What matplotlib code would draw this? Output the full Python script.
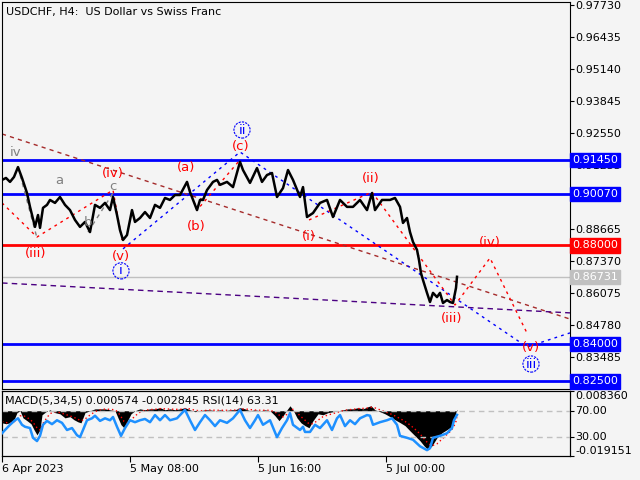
import matplotlib
matplotlib.use("Agg")
import matplotlib.pyplot as plt
import matplotlib.transforms as mtransforms

# Price data (bar index, close)
bars = [0, 4, 8, 12, 16, 20, 25, 28, 33, 36, 38, 41, 45, 48, 53, 58, 63, 68, 73, 78,
        83, 88, 93, 98, 103, 108, 111, 115, 118, 121, 125, 130, 133, 138, 143, 148, 153, 158, 163, 168,
        173, 178, 185, 188, 195, 198, 201, 205, 211, 215, 218, 225, 231, 238, 241, 248, 255, 260, 265, 270,
        275, 281, 286, 291, 298, 301, 305, 311, 318, 325, 331, 338, 345, 351, 358, 365, 370, 373, 380, 388,
        393, 398, 401, 405, 408, 411, 415, 417, 419, 421, 425, 428, 431, 435, 438, 441, 445, 448, 451, 454, 455]
close = [0.9065, 0.9073, 0.9057, 0.9077, 0.9117, 0.9073, 0.9012, 0.8956, 0.8875, 0.8923, 0.8871, 0.8952, 0.8964, 0.8984, 0.8972, 0.8996, 0.8964, 0.8943, 0.8903, 0.8875,
         0.8895, 0.8854, 0.8964, 0.8952, 0.8972, 0.8943, 0.8996, 0.8923, 0.8862, 0.8822, 0.8842, 0.8943, 0.8895, 0.8911, 0.8935, 0.8911, 0.8964, 0.8952, 0.8992, 0.8984,
         0.9004, 0.9004, 0.9057, 0.9016, 0.8943, 0.8984, 0.8984, 0.9024, 0.9057, 0.9065, 0.9045, 0.9057, 0.9036, 0.9138, 0.9105, 0.9053, 0.9113, 0.9057, 0.9085, 0.9093,
         0.8996, 0.9032, 0.9105, 0.9065, 0.8996, 0.9036, 0.8915, 0.8931, 0.8972, 0.8984, 0.8915, 0.8984, 0.8956, 0.8956, 0.8984, 0.8943, 0.9012, 0.8943, 0.8984, 0.8984,
         0.8992, 0.8956, 0.8891, 0.8911, 0.8854, 0.8814, 0.8782, 0.8741, 0.8688, 0.8660, 0.8608, 0.8571, 0.8608, 0.8591, 0.8608, 0.8567, 0.8579, 0.8571, 0.8567, 0.8628, 0.8673]

# MACD histogram / signal
macd_bars = [0, 4, 8, 12, 15, 18, 21, 25, 29, 32, 35, 38, 40, 44, 48, 53, 58, 63, 68, 72,
             76, 79, 83, 88, 93, 98, 103, 108, 113, 116, 119, 122, 126, 129, 133, 138, 143, 148, 153, 158,
             163, 168, 173, 178, 183, 188, 193, 198, 203, 208, 213, 218, 223, 228, 233, 238, 243, 248, 253, 258,
             263, 268, 273, 277, 281, 285, 288, 291, 295, 299, 303, 307, 311, 316, 321, 326, 331, 336, 341, 346,
             351, 356, 361, 366, 369, 373, 378, 383, 388, 393, 398, 403, 408, 413, 418, 422, 426, 430, 435, 440,
             445, 449, 452, 454, 455]
macd = [-0.0051, -0.0055, -0.0051, -0.0038, -0.0008, 0.0000, -0.0030, -0.0042, -0.0055, -0.0080, -0.0102, -0.0080, -0.0017, -0.0004, 0.0004, -0.0008, -0.0013, -0.0030, -0.0025, -0.0038,
        -0.0047, -0.0051, -0.0008, 0.0000, 0.0008, 0.0008, 0.0008, 0.0004, 0.0000, -0.0030, -0.0059, -0.0072, -0.0038, -0.0013, 0.0000, 0.0008, 0.0004, 0.0008, 0.0008, 0.0013,
        0.0004, 0.0008, 0.0004, 0.0008, 0.0013, 0.0004, -0.0004, 0.0000, 0.0004, 0.0004, 0.0000, 0.0004, 0.0000, 0.0004, 0.0004, 0.0013, 0.0008, 0.0000, 0.0004, 0.0000,
        0.0004, 0.0000, -0.0021, -0.0042, -0.0021, 0.0004, 0.0021, 0.0004, -0.0030, -0.0051, -0.0063, -0.0072, -0.0042, -0.0013, -0.0017, -0.0008, -0.0004, 0.0000, 0.0004, 0.0008,
        0.0008, 0.0013, 0.0008, 0.0017, 0.0021, 0.0004, -0.0004, -0.0013, -0.0025, -0.0038, -0.0050, -0.0063, -0.0085, -0.0106, -0.0127, -0.0148, -0.0165, -0.0148, -0.0114, -0.0093,
        -0.0080, -0.0068, -0.0038, -0.0004, 0.0006]
signal = [-0.0045, -0.0050, -0.0052, -0.0048, -0.0035, -0.0022, -0.0020, -0.0028, -0.0040, -0.0055, -0.0072, -0.0082, -0.0060, -0.0035, -0.0012, -0.0005, -0.0008, -0.0015, -0.0022, -0.0028,
          -0.0036, -0.0043, -0.0035, -0.0018, -0.0004, 0.0004, 0.0007, 0.0006, 0.0004, -0.0006, -0.0025, -0.0045, -0.0052, -0.0040, -0.0022, -0.0006, 0.0002, 0.0005, 0.0006, 0.0009,
          0.0008, 0.0007, 0.0006, 0.0006, 0.0009, 0.0008, 0.0002, 0.0000, 0.0001, 0.0003, 0.0002, 0.0002, 0.0002, 0.0002, 0.0003, 0.0007, 0.0008, 0.0005, 0.0003, 0.0002,
          0.0002, 0.0002, -0.0005, -0.0018, -0.0026, -0.0015, 0.0000, 0.0006, -0.0008, -0.0025, -0.0040, -0.0055, -0.0055, -0.0040, -0.0025, -0.0018, -0.0012, -0.0006, 0.0000, 0.0004,
          0.0006, 0.0009, 0.0010, 0.0012, 0.0015, 0.0012, 0.0004, -0.0004, -0.0012, -0.0022, -0.0033, -0.0045, -0.0060, -0.0078, -0.0098, -0.0118, -0.0138, -0.0148, -0.0140, -0.0120,
          -0.0100, -0.0085, -0.0065, -0.0045, -0.0028]

# RSI(14)
rsi_bars = [0, 3, 8, 13, 16, 20, 23, 28, 31, 35, 38, 41, 45, 50, 55, 60, 65, 70, 75, 78,
            81, 85, 90, 93, 98, 103, 108, 111, 115, 119, 123, 128, 133, 138, 143, 148, 153, 158, 163, 168,
            175, 183, 188, 193, 198, 203, 208, 213, 218, 225, 231, 238, 243, 248, 253, 256, 261, 268, 275, 280,
            285, 288, 291, 298, 301, 303, 308, 313, 318, 325, 330, 335, 338, 343, 348, 353, 358, 365, 368, 371,
            378, 385, 390, 395, 398, 405, 411, 418, 425, 428, 431, 438, 445, 450, 452, 455]
rsi = [35, 40, 48, 55, 58, 48, 45, 43, 28, 23, 31, 48, 54, 49, 55, 51, 40, 43, 32, 29,
       40, 55, 58, 62, 54, 58, 55, 60, 45, 31, 43, 55, 52, 55, 57, 52, 63, 55, 63, 55,
       58, 71, 55, 40, 52, 63, 55, 46, 55, 51, 58, 71, 55, 43, 55, 63, 48, 55, 29, 43,
       55, 66, 48, 40, 45, 37, 37, 48, 43, 55, 40, 58, 63, 46, 55, 49, 58, 63, 62, 48,
       52, 55, 58, 48, 31, 28, 25, 15, 9, 12, 28, 31, 35, 43, 55, 63.31]

# Horizontal levels
levels = [0.91450, 0.90070, 0.88000, 0.84000, 0.82500]
level_colors = ["#0000ff", "#0000ff", "#ff0000", "#0000ff", "#0000ff"]
last_price = 0.86731
price_ticks = [0.97730, 0.96435, 0.95140, 0.93845, 0.92550, 0.91255, 0.89960,
               0.88665, 0.87370, 0.86075, 0.84780, 0.83485]
# 0.89960 sits fully under the 0.90070 box in the original
hidden_ticks = [0.89960]

# Time labels
time_ticks = [0, 128, 256, 384]
time_labels = ["6 Apr 2023", "5 May 08:00", "5 Jun 16:00", "5 Jul 00:00"]

# Wave markup lines
red_path1 = ([0, 35, 111, 120], [0.8972, 0.8834, 0.9024, 0.8822])
red_path2 = ([185, 195, 238], [0.9057, 0.8943, 0.9146])
red_path3 = ([307, 370], [0.8903, 0.9016])
red_path4 = ([370, 453, 488, 526], [0.9016, 0.8559, 0.8749, 0.8437])
blue_path = ([121, 238, 525, 568], [0.8786, 0.9178, 0.8389, 0.8446])
gray_path1 = ([16, 35], [0.9117, 0.8830])
gray_path2 = ([86, 111], [0.8854, 0.9012])
brown_line = ([0, 568], [0.9251, 0.8502])
purple_line = ([0, 568], [0.8648, 0.8527])

# Wave labels (bar, price, text, colour, circled)
wave_labels = [
    (14, 0.9174, "iv", "#808080", False),
    (57, 0.9061, "a", "#808080", False),
    (86, 0.8891, "b", "#808080", False),
    (111, 0.9040, "c", "#808080", False),
    (34, 0.8769, "(iii)", "#ff0000", False),
    (111, 0.9092, "(iv)", "#ff0000", False),
    (119, 0.8757, "(v)", "#ff0000", False),
    (119, 0.8697, "i", "#0000ff", True),
    (184, 0.9117, "(a)", "#ff0000", False),
    (194, 0.8875, "(b)", "#ff0000", False),
    (239, 0.9202, "(c)", "#ff0000", False),
    (240, 0.9267, "ii", "#0000ff", True),
    (307, 0.8838, "(i)", "#ff0000", False),
    (369, 0.9069, "(ii)", "#ff0000", False),
    (450, 0.8506, "(iii)", "#ff0000", False),
    (488, 0.8810, "(iv)", "#ff0000", False),
    (529, 0.8385, "(v)", "#ff0000", False),
    (529, 0.8320, "iii", "#0000ff", True),
]

bg = "#f4f4f4"
fig = plt.figure(figsize=(6.4, 4.8), dpi=100, facecolor=bg)
ax = fig.add_axes([2 / 640, 1 - 389 / 480, 568 / 640, 387 / 480], facecolor=bg)
ax2 = fig.add_axes([2 / 640, 1 - 456 / 480, 568 / 640, 65 / 480], facecolor=bg)

# --- main chart ---
ax.set_xlim(0, 568)
ax.set_ylim(0.8219, 0.9785)

for lv, c in zip(levels, level_colors):
    ax.axhline(lv, color=c, lw=2, zorder=2)
ax.axhline(last_price, color="#c0c0c0", lw=1, zorder=1)

ax.plot(*brown_line, color="#a52a2a", lw=1, ls=(0, (3, 3)), zorder=2)
ax.plot(*purple_line, color="#4b0082", lw=1, ls=(0, (4, 3)), zorder=2)
ax.plot(*blue_path, color="#0000ff", lw=1, ls=(0, (2, 3)), zorder=2)
for p in (red_path1, red_path2, red_path3, red_path4):
    ax.plot(*p, color="#ff0000", lw=1, ls=(0, (2, 3)), zorder=2)
for p in (gray_path1, gray_path2):
    ax.plot(*p, color="#808080", lw=1, ls=(0, (3, 3)), zorder=2)

ax.plot(bars, close, color="black", lw=1.8, zorder=3)

for b, p, t, c, circ in wave_labels:
    kw = {}
    if circ:
        kw["bbox"] = dict(boxstyle="circle,pad=0.12", fc="none", ec=c, lw=0.8, ls=(0, (2, 1)))
    ax.text(b, p, t, color=c, fontsize=9.5, ha="center", va="center", zorder=4, **kw)

ax.text(0.007, 0.988, "USDCHF, H4:  US Dollar vs Swiss Franc", transform=ax.transAxes,
        fontsize=8, ha="left", va="top")

ax.yaxis.tick_right()
ax.set_yticks(price_ticks)
ax.set_yticklabels(["" if v in hidden_ticks else f"{v:.5f}" for v in price_ticks])
ax.tick_params(axis="y", direction="out", length=3, pad=1, labelsize=8)
ax.set_xticks([])

trans = mtransforms.blended_transform_factory(ax.transAxes, ax.transData)
for lv, c in zip(levels, level_colors):
    ax.text(1.004, lv, f"{lv:.5f}", transform=trans, color="white", fontsize=8,
            ha="left", va="center", clip_on=False, zorder=6,
            bbox=dict(boxstyle="square,pad=0.2", fc=c, ec=c))
ax.text(1.004, last_price, f"{last_price:.5f}", transform=trans, color="white", fontsize=8,
        ha="left", va="center", clip_on=False, zorder=6,
        bbox=dict(boxstyle="square,pad=0.2", fc="#c0c0c0", ec="#c0c0c0"))

# --- MACD / RSI window ---
ax2.set_xlim(0, 568)
ax2.set_ylim(-0.019151, 0.00836)
ax2.fill_between(macd_bars, 0, macd, color="black", lw=0, zorder=2)
ax2.plot(macd_bars, signal, color="#ff0000", lw=1, ls=(0, (1, 2)), zorder=3)

rs = ax2.twinx()
rs.set_ylim(0, 100)
rs.axhline(70, color="#c0c0c0", lw=1, ls=(0, (4, 3)), zorder=1)
rs.axhline(30, color="#c0c0c0", lw=1, ls=(0, (4, 3)), zorder=1)
rs.plot(rsi_bars, rsi, color="#1e90ff", lw=1.8, zorder=4)
rs.set_yticks([70, 30])
rs.set_yticklabels(["70.00", "30.00"])
rs.tick_params(axis="y", direction="out", length=3, pad=1, labelsize=8)

ax2.yaxis.tick_right()
ax2.set_yticks([0.00836, -0.019151])
ax2.set_yticklabels(["0.008360", "-0.019151"])
ax2.tick_params(axis="y", direction="out", length=3, pad=1, labelsize=8)
tl = ax2.get_yticklabels()
tl[0].set_va("top")
tl[1].set_va("bottom")

ax2.set_xticks(time_ticks)
ax2.set_xticklabels(time_labels, ha="left")
ax2.tick_params(axis="x", direction="out", length=4, pad=2, labelsize=8)

ax2.text(0.006, 0.93, "MACD(5,34,5) 0.000574 -0.002845 RSI(14) 63.31", transform=ax2.transAxes,
         fontsize=8, ha="left", va="top", zorder=5)

fig.savefig("out.png", dpi=100, facecolor=bg)
